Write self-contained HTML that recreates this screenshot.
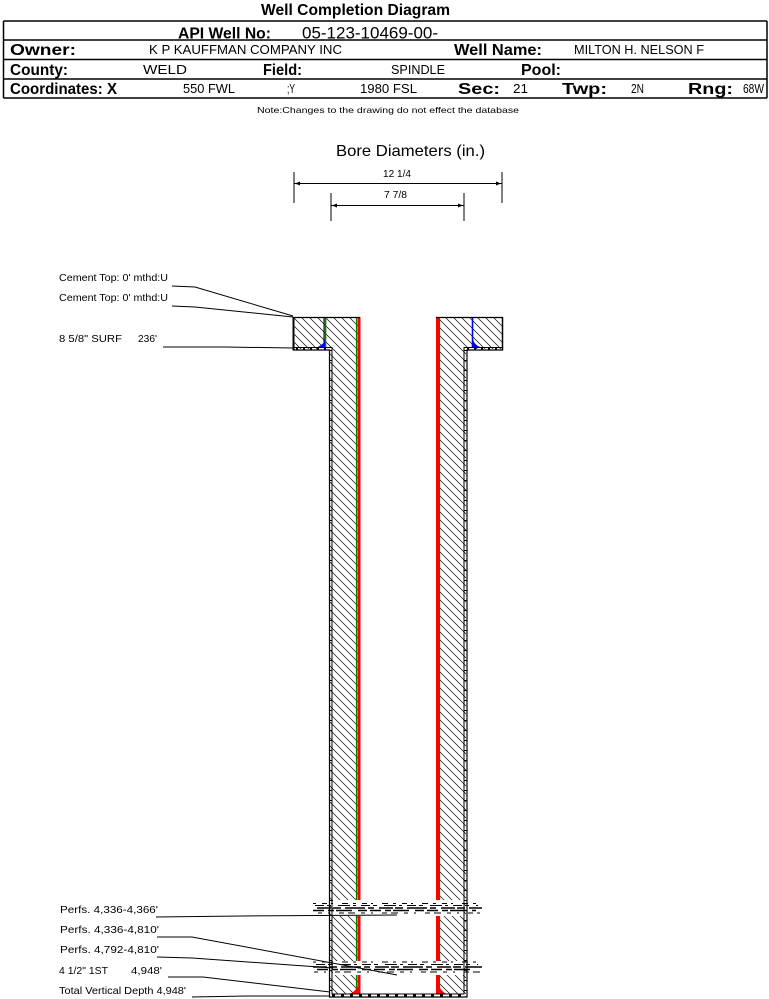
<!DOCTYPE html>
<html><head><meta charset="utf-8"><style>
html,body{margin:0;padding:0;background:#fff;}
svg{display:block;}
text{font-family:"Liberation Sans",Arial,sans-serif;fill:#000;}
.b{font-weight:bold;font-size:16px;}
.v{font-size:13px;}
.s{font-size:10.5px;}
</style></head><body>
<svg width="769" height="999" viewBox="0 0 769 999" xmlns="http://www.w3.org/2000/svg">
<defs>
<pattern id="h" patternUnits="userSpaceOnUse" width="8" height="8">
<path d="M-1,-1 L9,9 M-1,7 L1,9 M7,-1 L9,1" stroke="#000" stroke-width="0.65" fill="none"/>
</pattern>
</defs>
<rect width="769" height="999" fill="#fff"/>

<!-- Title -->
<text x="261" y="15" font-weight="bold" font-size="16" textLength="189" lengthAdjust="spacingAndGlyphs">Well Completion Diagram</text>

<!-- Header box -->
<g stroke="#000" stroke-width="1.5" fill="none">
<line x1="3.5" y1="21" x2="767" y2="21"/>
<line x1="3.5" y1="40" x2="767" y2="40"/>
<line x1="3.5" y1="59.5" x2="767" y2="59.5"/>
<line x1="3.5" y1="79" x2="767" y2="79"/>
<line x1="3.5" y1="98" x2="767" y2="98"/>
<line x1="3.5" y1="21" x2="3.5" y2="98"/>
<line x1="767" y1="21" x2="767" y2="98"/>
</g>
<text class="b" x="178" y="38.5" textLength="93" lengthAdjust="spacingAndGlyphs">API Well No:</text>
<text x="302" y="38.5" font-size="17" textLength="136" lengthAdjust="spacingAndGlyphs">05-123-10469-00-</text>

<text class="b" x="10" y="55" textLength="66" lengthAdjust="spacingAndGlyphs">Owner:</text>
<text class="v" x="149" y="54" textLength="193" lengthAdjust="spacingAndGlyphs">K P KAUFFMAN COMPANY INC</text>
<text class="b" x="454" y="55" textLength="88" lengthAdjust="spacingAndGlyphs">Well Name:</text>
<text class="v" x="574" y="54" textLength="130" lengthAdjust="spacingAndGlyphs">MILTON H. NELSON F</text>

<text class="b" x="10" y="75" textLength="58" lengthAdjust="spacingAndGlyphs">County:</text>
<text class="v" x="143" y="74" textLength="44" lengthAdjust="spacingAndGlyphs">WELD</text>
<text class="b" x="263" y="75" textLength="39" lengthAdjust="spacingAndGlyphs">Field:</text>
<text class="v" x="391" y="74" textLength="54" lengthAdjust="spacingAndGlyphs">SPINDLE</text>
<text class="b" x="521" y="75" textLength="40" lengthAdjust="spacingAndGlyphs">Pool:</text>

<text class="b" x="10" y="94" textLength="107" lengthAdjust="spacingAndGlyphs">Coordinates: X</text>
<text class="v" x="183" y="93" textLength="52" lengthAdjust="spacingAndGlyphs">550 FWL</text>
<text class="v" x="287" y="93" textLength="8" lengthAdjust="spacingAndGlyphs">;Y</text>
<text class="v" x="360" y="93" textLength="57" lengthAdjust="spacingAndGlyphs">1980 FSL</text>
<text class="b" x="458" y="94" textLength="42" lengthAdjust="spacingAndGlyphs">Sec:</text>
<text class="v" x="513" y="93" textLength="15" lengthAdjust="spacingAndGlyphs">21</text>
<text class="b" x="562" y="94" textLength="45" lengthAdjust="spacingAndGlyphs">Twp:</text>
<text class="v" x="631" y="93" textLength="13" lengthAdjust="spacingAndGlyphs">2N</text>
<text class="b" x="688" y="94" textLength="45" lengthAdjust="spacingAndGlyphs">Rng:</text>
<text class="v" x="743" y="93" textLength="21" lengthAdjust="spacingAndGlyphs">68W</text>

<text x="257" y="113" font-size="8.5" textLength="262" lengthAdjust="spacingAndGlyphs">Note:Changes to the drawing do not effect the database</text>

<!-- Bore diameters -->
<text x="336" y="156" font-size="16" textLength="149" lengthAdjust="spacingAndGlyphs">Bore Diameters (in.)</text>
<g stroke="#000" stroke-width="1" fill="none">
<line x1="294" y1="172" x2="294" y2="203"/>
<line x1="502" y1="172" x2="502" y2="203"/>
<line x1="294" y1="183.5" x2="502" y2="183.5"/>
<line x1="331" y1="193" x2="331" y2="221"/>
<line x1="464" y1="193" x2="464" y2="221"/>
<line x1="331" y1="205.5" x2="464" y2="205.5"/>
</g>
<g fill="#000">
<path d="M295,183.5 L300,181.5 L300,185.5 Z"/>
<path d="M501,183.5 L496,181.5 L496,185.5 Z"/>
<path d="M332,205.5 L337,203.5 L337,207.5 Z"/>
<path d="M463,205.5 L458,203.5 L458,207.5 Z"/>
</g>
<text x="383" y="177" font-size="10" textLength="28" lengthAdjust="spacingAndGlyphs">12 1/4</text>
<text x="384" y="198" font-size="10" textLength="23" lengthAdjust="spacingAndGlyphs">7 7/8</text>

<!-- Hatched cement / bore -->
<path d="M293,317 L359,317 L359,994 L330,994 L330,349 L293,349 Z" fill="url(#h)"/>
<path d="M437,317 L503,317 L503,349 L466,349 L466,994 L437,994 Z" fill="url(#h)"/>

<!-- surface casing -->
<line x1="324" y1="317" x2="324" y2="347" stroke="#000" stroke-width="1"/>
<line x1="325.5" y1="317" x2="325.5" y2="347" stroke="#008000" stroke-width="1.6"/>
<line x1="472.5" y1="317" x2="472.5" y2="347" stroke="#0000ff" stroke-width="1.6"/>
<path d="M316,347.5 L325,347.5 L325,339 Q324,345 316,347.5 Z" fill="#0000ff"/>
<path d="M473,339 L473,347.5 L481,347.5 Q474,345 473,339 Z" fill="#0000ff"/>

<!-- production casing -->
<line x1="356.5" y1="317" x2="356.5" y2="994" stroke="#008000" stroke-width="1.2"/>
<rect x="357.5" y="317" width="3" height="677" fill="#ff0000"/>
<rect x="436" y="317" width="3" height="677" fill="#ff0000"/>
<line x1="439.5" y1="317" x2="439.5" y2="994" stroke="#008000" stroke-width="1.2"/>
<path d="M349,994 L358,994 L358,984 Q357,991 349,994 Z" fill="#ff0000"/>
<path d="M438.5,984 L438.5,994 L447,994 Q440,991 438.5,984 Z" fill="#ff0000"/>

<!-- perf zone blanks -->
<rect x="333" y="900" width="131" height="16" fill="#fff"/>
<rect x="333" y="961" width="131" height="14" fill="#fff"/>

<!-- walls -->
<g stroke="#000" fill="none">
<line x1="293.5" y1="317" x2="293.5" y2="350.5" stroke-width="2"/>
<line x1="293" y1="317.5" x2="360" y2="317.5" stroke-width="1.2"/>
<line x1="436" y1="317.5" x2="503" y2="317.5" stroke-width="1.2"/>
<line x1="502.5" y1="317" x2="502.5" y2="350.5" stroke-width="1.5"/>
<line x1="293" y1="347.5" x2="332" y2="347.5" stroke-width="1"/>
<line x1="293" y1="350" x2="330" y2="350" stroke-width="1.2"/>
<line x1="464" y1="347.5" x2="503" y2="347.5" stroke-width="1"/>
<line x1="467" y1="350" x2="503" y2="350" stroke-width="1.2"/>
<line x1="332" y1="347" x2="332" y2="994.5" stroke-width="1"/>
<line x1="329.5" y1="349.5" x2="329.5" y2="997.5" stroke-width="1.2"/>
<line x1="464" y1="347" x2="464" y2="994.5" stroke-width="1"/>
<line x1="467" y1="349.5" x2="467" y2="997.5" stroke-width="1.2"/>
<line x1="332" y1="994" x2="464" y2="994" stroke-width="1"/>
<line x1="329" y1="997" x2="467.5" y2="997" stroke-width="1.2"/>
<line x1="330.7" y1="350" x2="330.7" y2="996" stroke-width="2" stroke-dasharray="1 9"/>
<line x1="465.5" y1="350" x2="465.5" y2="996" stroke-width="2" stroke-dasharray="1 9"/>
<line x1="296" y1="348.7" x2="330" y2="348.7" stroke-width="2" stroke-dasharray="2 5"/>
<line x1="467" y1="348.7" x2="502" y2="348.7" stroke-width="2" stroke-dasharray="2 5"/>
<line x1="332" y1="995.5" x2="464" y2="995.5" stroke-width="2" stroke-dasharray="3 6"/>
</g>

<!-- perforations -->
<g stroke="#000" fill="none">
<line x1="313" y1="903.5" x2="480" y2="903.5" stroke-width="1" stroke-dasharray="3 6 5 4 2 9 6 5"/>
<line x1="315" y1="905.5" x2="478" y2="905.5" stroke-width="1" stroke-dasharray="9 3 4 7 12 3 3 5"/>
<line x1="317" y1="908" x2="482" y2="908" stroke-width="1.5" stroke-dasharray="14 2 8 4 20 3 6 5"/>
<line x1="313" y1="910.5" x2="476" y2="910.5" stroke-width="1.5" stroke-dasharray="11 4 6 2 16 6 9 3"/>
<line x1="318" y1="913" x2="480" y2="913" stroke-width="1" stroke-dasharray="4 6 2 9 5 4 7 6"/>

<line x1="313" y1="962" x2="480" y2="962" stroke-width="1" stroke-dasharray="3 6 5 4 2 9 6 5"/>
<line x1="316" y1="964.5" x2="478" y2="964.5" stroke-width="1" stroke-dasharray="9 3 4 7 12 3 3 5"/>
<line x1="313" y1="967" x2="482" y2="967" stroke-width="1.5" stroke-dasharray="14 2 8 4 20 3 6 5"/>
<line x1="317" y1="969.5" x2="476" y2="969.5" stroke-width="1.5" stroke-dasharray="11 4 6 2 16 6 9 3"/>
<line x1="314" y1="972" x2="480" y2="972" stroke-width="1" stroke-dasharray="4 6 2 9 5 4 7 6"/>
</g>

<!-- leaders -->
<g stroke="#000" stroke-width="1" fill="none">
<polyline points="172,286 195,287 293,316"/>
<polyline points="172,306 195,307 293,317"/>
<polyline points="163,347 225,347 293,348"/>
<polyline points="156,917 242,916 397,915"/>
<polyline points="157,937 192,937 397,975"/>
<polyline points="157,957 192,958 333,968"/>
<polyline points="168,977 203,977 330,992"/>
<polyline points="192,997 247,996 330,996"/>
</g>

<!-- labels -->
<text class="s" x="59" y="281" textLength="109" lengthAdjust="spacingAndGlyphs">Cement Top: 0' mthd:U</text>
<text class="s" x="59" y="301" textLength="109" lengthAdjust="spacingAndGlyphs">Cement Top: 0' mthd:U</text>
<text class="s" x="59" y="342" textLength="63" lengthAdjust="spacingAndGlyphs">8 5/8" SURF</text>
<text class="s" x="138" y="342" textLength="19" lengthAdjust="spacingAndGlyphs">236'</text>

<text class="s" x="60" y="913" textLength="98" lengthAdjust="spacingAndGlyphs">Perfs. 4,336-4,366'</text>
<text class="s" x="60" y="933" textLength="99" lengthAdjust="spacingAndGlyphs">Perfs. 4,336-4,810'</text>
<text class="s" x="60" y="953" textLength="99" lengthAdjust="spacingAndGlyphs">Perfs. 4,792-4,810'</text>
<text class="s" x="59" y="974" textLength="49" lengthAdjust="spacingAndGlyphs">4 1/2" 1ST</text>
<text class="s" x="131" y="974" textLength="31" lengthAdjust="spacingAndGlyphs">4,948'</text>
<text class="s" x="59" y="994" textLength="127" lengthAdjust="spacingAndGlyphs">Total Vertical Depth 4,948'</text>
</svg>
</body></html>
